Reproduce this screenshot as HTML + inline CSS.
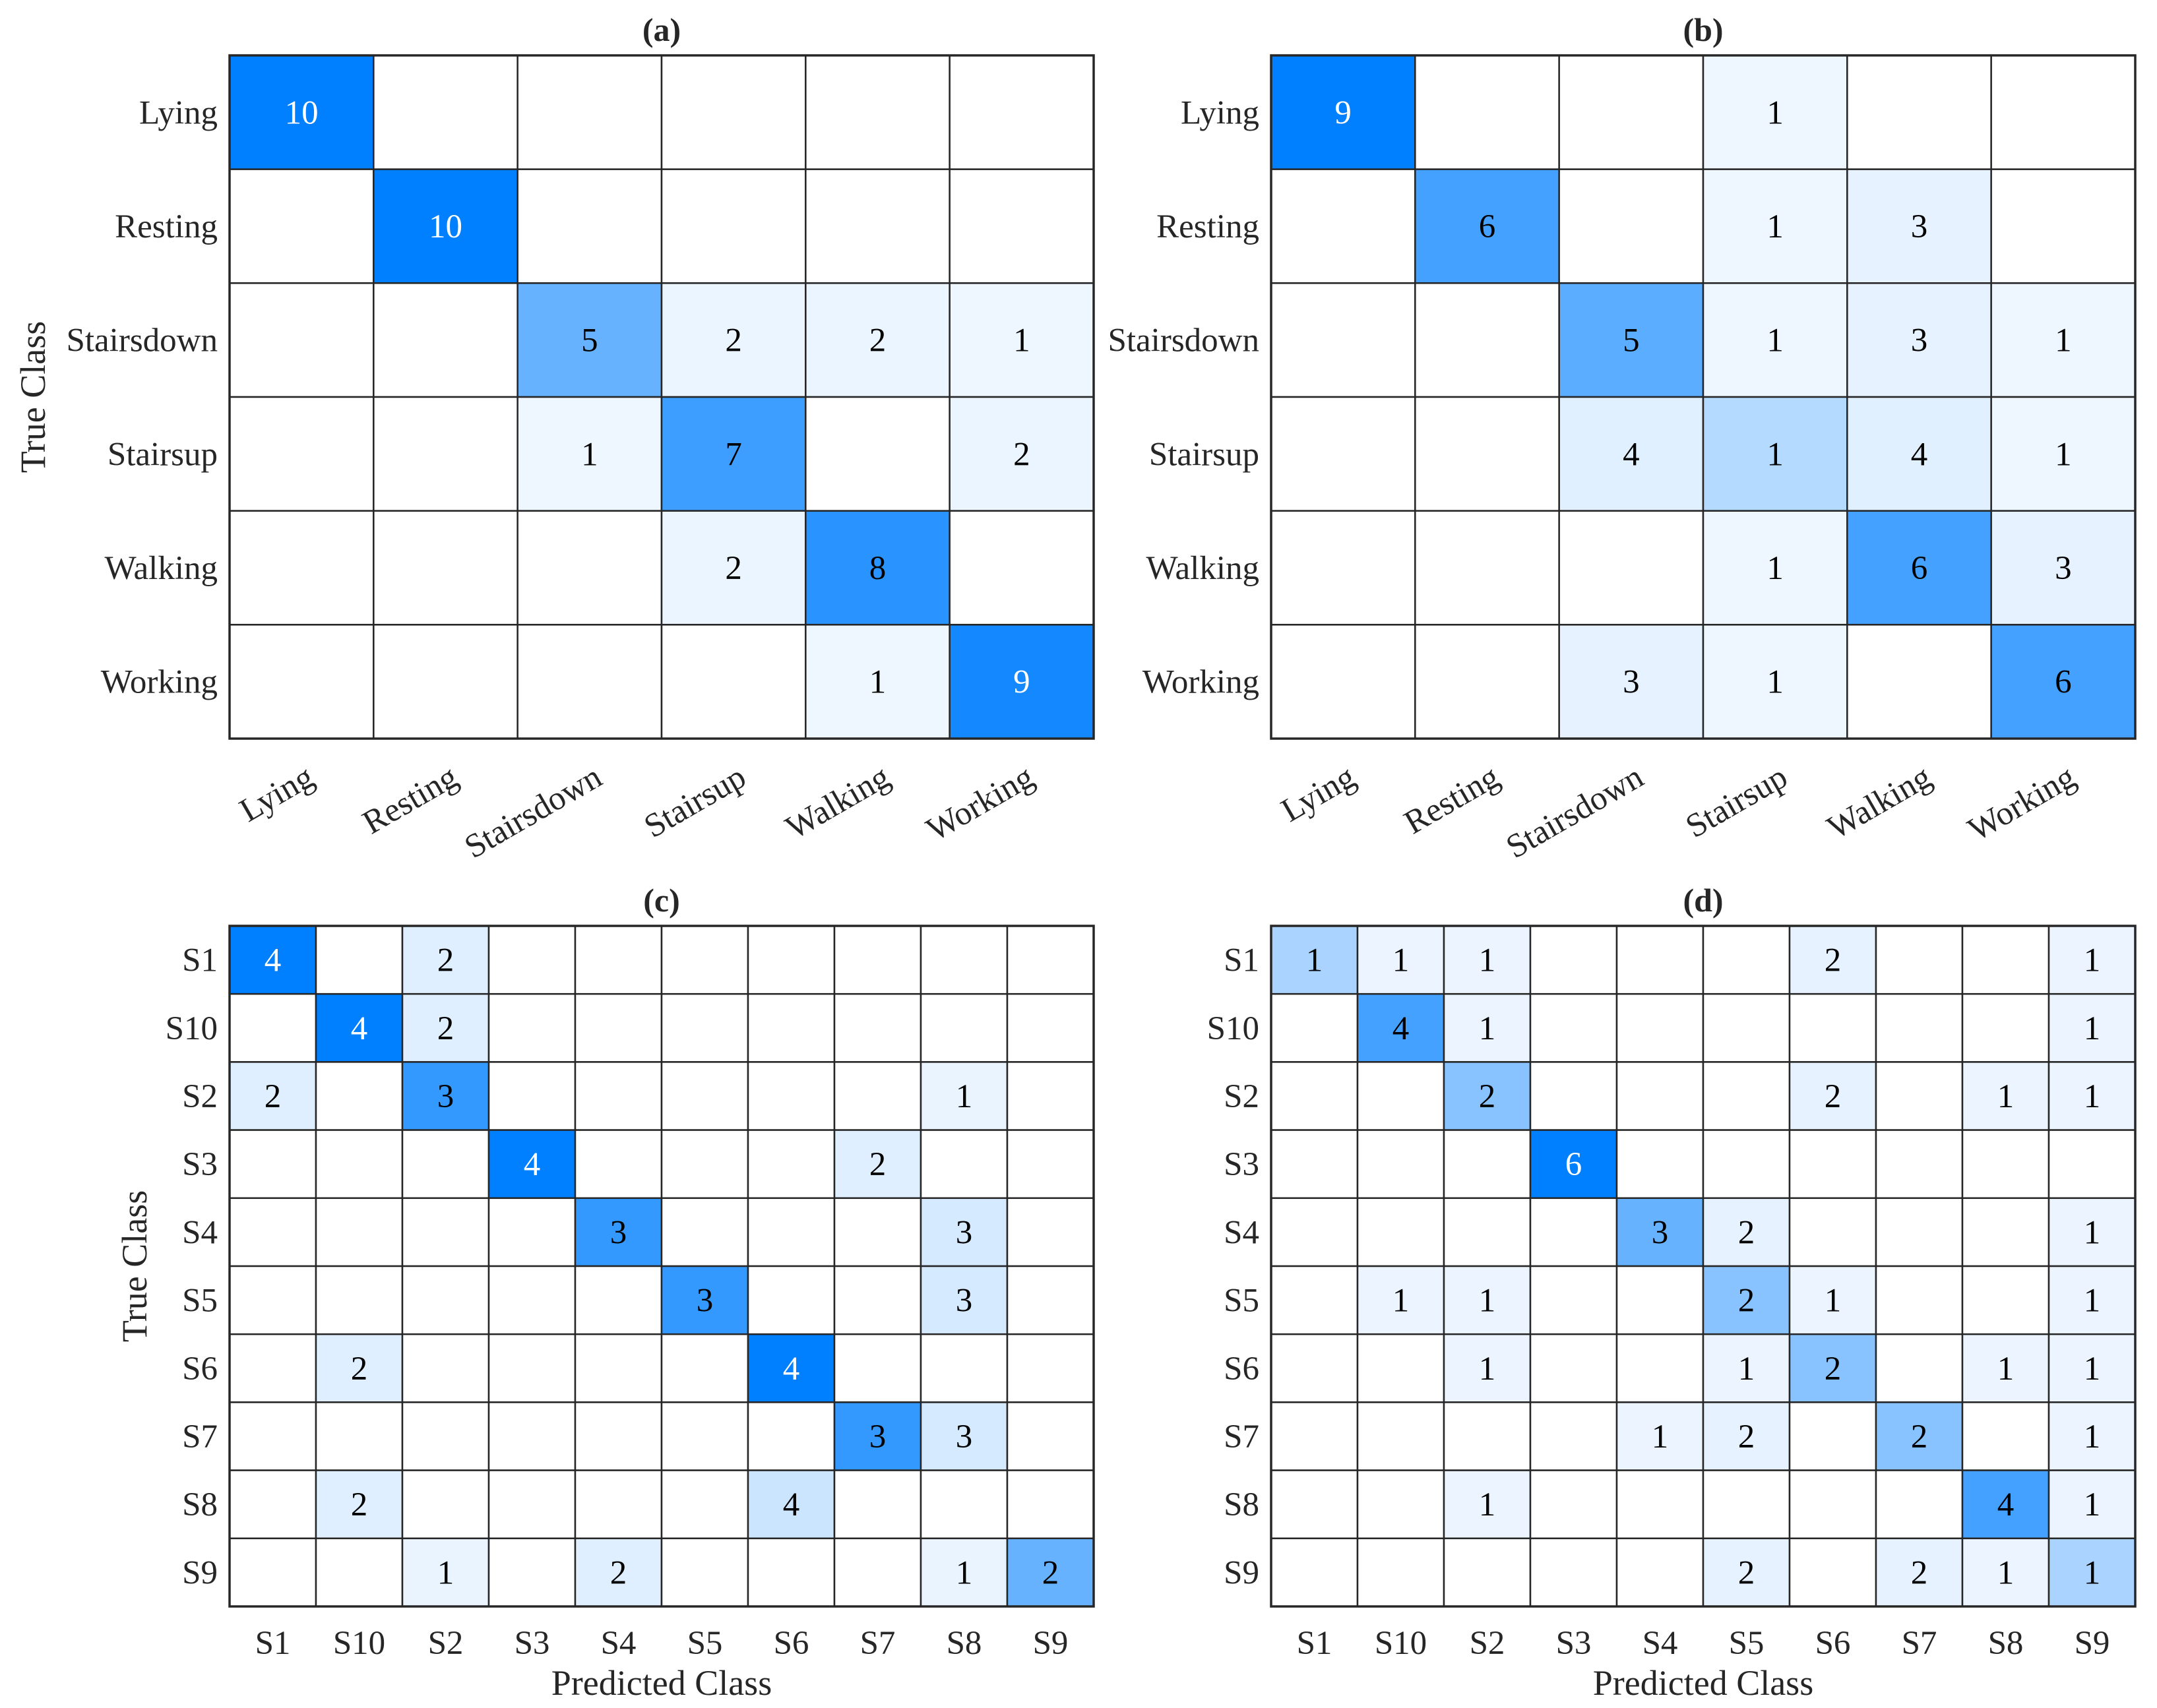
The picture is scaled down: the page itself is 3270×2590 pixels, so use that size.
<!DOCTYPE html>
<html><head><meta charset="utf-8"><style>
html,body{margin:0;padding:0;background:#fff;}
svg{display:block;}
text{font-family:"Liberation Serif","Times New Roman",serif;fill:#262626;}
</style></head><body>
<svg id="fig" width="3270" height="2590" viewBox="0 0 3270 2590" xmlns="http://www.w3.org/2000/svg"></svg>
<script>
const activityLabels = ["Lying","Resting","Stairsdown","Stairsup","Walking","Working"];
const subjectLabels = ["S1","S10","S2","S3","S4","S5","S6","S7","S8","S9"];
const matrixA = [
 [10,0,0,0,0,0],[0,10,0,0,0,0],[0,0,5,2,2,1],[0,0,1,7,0,2],[0,0,0,2,8,0],[0,0,0,0,1,9]];
const matrixB = [
 [9,0,0,1,0,0],[0,6,0,1,3,0],[0,0,5,1,3,1],[0,0,4,1,4,1],[0,0,0,1,6,3],[0,0,3,1,0,6]];
const matrixC = [
 [4,0,2,0,0,0,0,0,0,0],[0,4,2,0,0,0,0,0,0,0],[2,0,3,0,0,0,0,0,1,0],[0,0,0,4,0,0,0,2,0,0],
 [0,0,0,0,3,0,0,0,3,0],[0,0,0,0,0,3,0,0,3,0],[0,2,0,0,0,0,4,0,0,0],[0,0,0,0,0,0,0,3,3,0],
 [0,2,0,0,0,0,4,0,0,0],[0,0,1,0,2,0,0,0,1,2]];
const matrixD = [
 [1,1,1,0,0,0,2,0,0,1],[0,4,1,0,0,0,0,0,0,1],[0,0,2,0,0,0,2,0,1,1],[0,0,0,6,0,0,0,0,0,0],
 [0,0,0,0,3,2,0,0,0,1],[0,1,1,0,0,2,1,0,0,1],[0,0,1,0,0,1,2,0,1,1],[0,0,0,0,1,2,0,2,0,1],
 [0,0,1,0,0,0,0,0,4,1],[0,0,0,0,0,2,0,2,1,1]];

const NS="http://www.w3.org/2000/svg";
const svg=document.getElementById('fig');
function mk(tag,attrs,parent){const e=document.createElementNS(NS,tag);for(const k in attrs)e.setAttribute(k,attrs[k]);(parent||svg).appendChild(e);return e;}
function cellColor(v,max,diag){
  if(v===0) return {fill:"#ffffff",t:0};
  const t = diag ? 0.2+0.8*v/max : 0.05+0.15*v/max;
  const r=Math.round(255*(1-t)), g=Math.round(255-128*t);
  return {fill:`rgb(${r},${g},255)`,t:t};
}
function drawPanel(opts){
  const {m,labels,x0,y0,x1,y1,title,rot,showY,showX,key}=opts;
  const g=mk('g',{});
  
  
  const n=labels.length, cw=(x1-x0)/n, ch=(y1-y0)/n;
  const xs=i=>x0+i*cw, ys=j=>y0+j*ch;
  let max=0; m.forEach(r=>r.forEach(v=>{if(v>max)max=v;}));
  const fs = 51;
  for(let j=0;j<n;j++)for(let i=0;i<n;i++){
    const v=m[j][i]; const c=cellColor(v,max,i===j);
    const r=mk('rect',{x:xs(i),y:ys(j),width:cw,height:ch,fill:c.fill,stroke:"#262626","stroke-width":2.5},g);
    
    
    if(v>0){
      const t=mk('text',{x:xs(i)+cw/2,y:ys(j)+ch/2+17,"text-anchor":"middle","font-size":fs},g);
      
      
      t.style.fill = c.t>0.9 ? "#ffffff" : "#000000";
      t.textContent=v;
    }
  }
  mk('rect',{x:x0,y:y0,width:x1-x0,height:y1-y0,fill:"none",stroke:"#262626","stroke-width":3.5},g);
  for(let j=0;j<n;j++){
    const t=mk('text',{x:x0-18,y:ys(j)+ch/2+17,"text-anchor":"end","font-size":fs},g);
    
    
    t.textContent=labels[j];
  }
  for(let i=0;i<n;i++){
    let t;
    if(rot){
      const cx=xs(i)+cw/2+22, cy=y1+68;
      t=mk('text',{x:cx,y:cy,"text-anchor":"end","font-size":fs,transform:`rotate(-30 ${cx} ${cy})`},g);
    } else {
      t=mk('text',{x:xs(i)+cw/2,y:y1+72,"text-anchor":"middle","font-size":fs},g);
    }
    
    
    t.textContent=labels[i];
  }
  const tt=mk('text',{x:(x0+x1)/2,y:y0-22,"text-anchor":"middle","font-size":50,"font-weight":"bold"},g);
  
  
  tt.textContent=title;
  if(showY){
    const yx=showY.x, yy=(y0+y1)/2;
    const yl=mk('text',{x:yx,y:yy,"text-anchor":"middle","font-size":54,transform:`rotate(-90 ${yx} ${yy})`},g);
    
    
    yl.textContent="True Class";
  }
  if(showX){
    const xl=mk('text',{x:(x0+x1)/2,y:y1+134,"text-anchor":"middle","font-size":54},g);
    
    
    xl.textContent="Predicted Class";
  }
}
drawPanel({m:matrixA,labels:activityLabels,x0:348,y0:84,x1:1658,y1:1120,title:"(a)",rot:true,showY:{x:68},key:'a'});
drawPanel({m:matrixB,labels:activityLabels,x0:1927,y0:84,x1:3237,y1:1120,title:"(b)",rot:true,key:'b'});
drawPanel({m:matrixC,labels:subjectLabels,x0:348,y0:1404,x1:1658,y1:2436,title:"(c)",rot:false,showY:{x:222},showX:true,key:'c'});
drawPanel({m:matrixD,labels:subjectLabels,x0:1927,y0:1404,x1:3237,y1:2436,title:"(d)",rot:false,showX:true,key:'d'});
</script>
</body></html>
